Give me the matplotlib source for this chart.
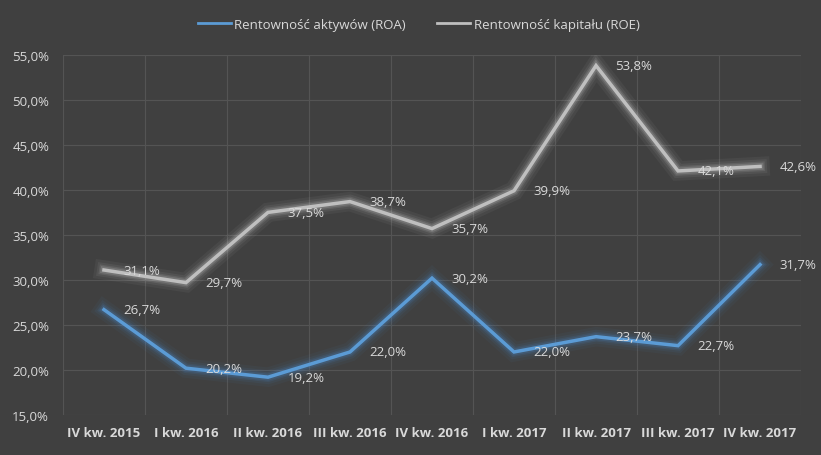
import matplotlib.pyplot as plt
from matplotlib.ticker import FuncFormatter

# data
quarters = ["IV kw. 2015", "I kw. 2016", "II kw. 2016", "III kw. 2016", "IV kw. 2016",
            "I kw. 2017", "II kw. 2017", "III kw. 2017", "IV kw. 2017"]
roa = [26.7, 20.2, 19.2, 22.0, 30.2, 22.0, 23.7, 22.7, 31.7]
roe = [31.1, 29.7, 37.5, 38.7, 35.7, 39.9, 53.8, 42.1, 42.6]

bg = "#404040"
text_col = "#d9d9d9"
grid_col = "#545454"
roa_col = "#5b9bd5"
roe_col = "#bfbfbf"

plt.rcParams['font.family'] = ['Open Sans', 'DejaVu Sans']

fig = plt.figure(figsize=(8.21, 4.56), dpi=100, facecolor=bg)
ax = fig.add_axes([0.0767, 0.0877, 0.899, 0.79])
ax.set_facecolor(bg)

x = list(range(len(quarters)))

def pct(v):
    return ("%.1f%%" % v).replace(".", ",")

def glow_line(xs, ys, color, glow, label):
    # soft glow underneath, then the line itself
    for w, a in [(14, 0.05), (10, 0.07), (7, 0.11), (5, 0.16)]:
        ax.plot(xs, ys, color=glow, lw=w, alpha=a, solid_joinstyle="miter", zorder=2)
    ax.plot(xs, ys, color=color, lw=2.5, label=label, solid_joinstyle="miter", zorder=3)

glow_line(x, roa, roa_col, "#4a8fd8", "Rentowność aktywów (ROA)")
glow_line(x, roe, roe_col, "#e0e0e0", "Rentowność kapitału (ROE)")

for xi, v in zip(x, roa):
    ax.annotate(pct(v), (xi, v), xytext=(14, 0), textcoords="offset points",
                va="center", ha="left", color=text_col, fontsize=9.5, zorder=4)
for xi, v in zip(x, roe):
    ax.annotate(pct(v), (xi, v), xytext=(14, 0), textcoords="offset points",
                va="center", ha="left", color=text_col, fontsize=9.5, zorder=4)

ax.set_xlim(-0.5, len(quarters) - 0.5)
ax.set_ylim(15, 55)
ax.set_yticks(range(15, 56, 5))
ax.yaxis.set_major_formatter(FuncFormatter(lambda v, p: pct(v)))
ax.set_xticks(x)
ax.set_xticklabels(quarters, fontweight="bold")
ax.set_xticks([i - 0.5 for i in range(len(quarters) + 1)], minor=True)

ax.grid(axis="y", which="major", color=grid_col, lw=0.8)
ax.grid(axis="x", which="minor", color=grid_col, lw=0.8)
ax.set_axisbelow(True)
ax.tick_params(which="both", length=0, colors=text_col, labelsize=9.5)
ax.tick_params(axis="y", pad=10)
ax.tick_params(axis="x", pad=8)
for s in ax.spines.values():
    s.set_visible(False)

leg = fig.legend(loc="upper center", bbox_to_anchor=(0.51, 0.985), ncol=2, frameon=False,
                 fontsize=9.5, handlelength=2.5, columnspacing=2.4, handletextpad=0.25)
for t in leg.get_texts():
    t.set_color(text_col)
for h in leg.get_lines():
    h.set_linewidth(2)

fig.savefig("out.png", dpi=100, facecolor=bg)
